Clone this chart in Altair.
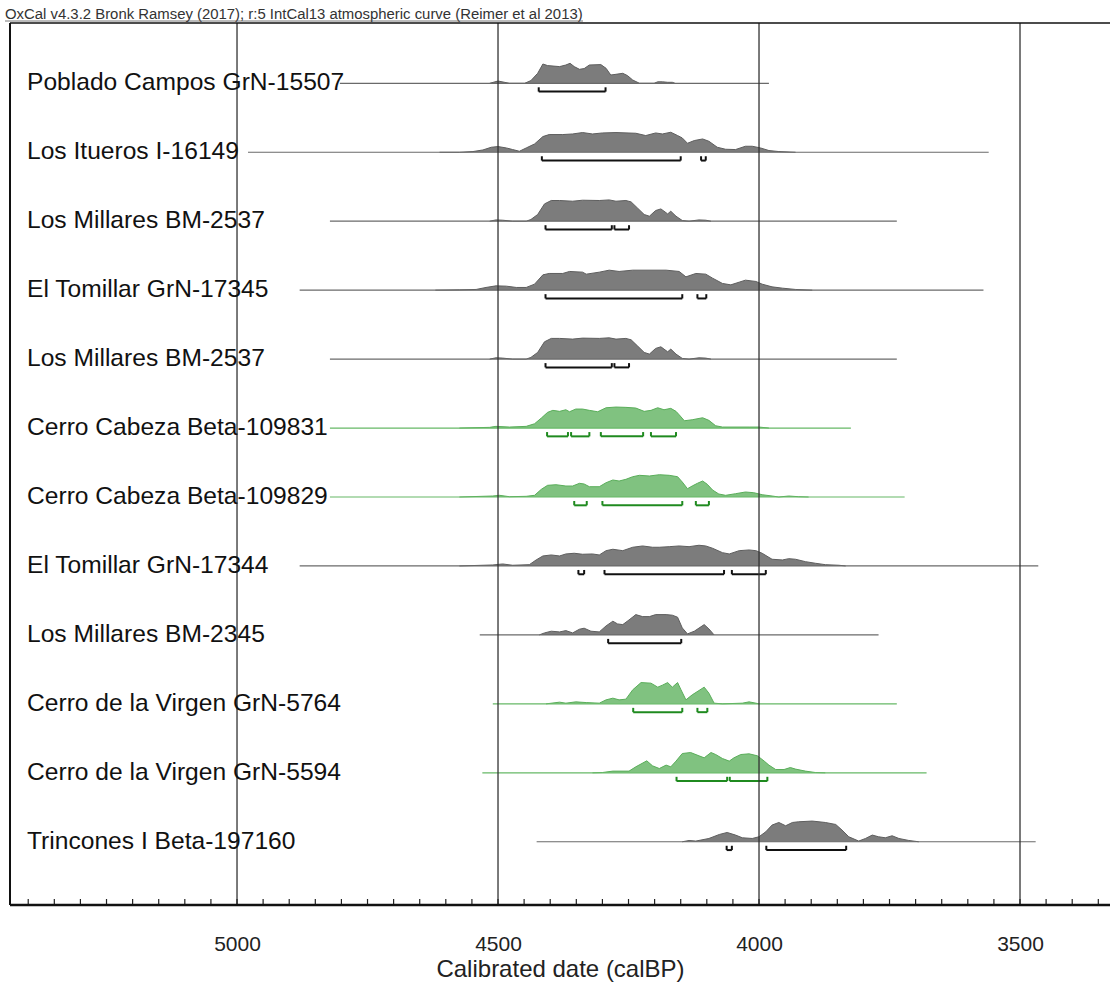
import altair as alt
import pandas as pd

FONT = "Liberation Sans"

labels = [
    "Poblado Campos GrN-15507",
    "Los Itueros I-16149",
    "Los Millares BM-2537",
    "El Tomillar GrN-17345",
    "Los Millares BM-2537",
    "Cerro Cabeza Beta-109831",
    "Cerro Cabeza Beta-109829",
    "El Tomillar GrN-17344",
    "Los Millares BM-2345",
    "Cerro de la Virgen GrN-5764",
    "Cerro de la Virgen GrN-5594",
    "Trincones I Beta-197160",
]
green_rows = [False, False, False, False, False, True, True, False, False, True, True, False]

# probability distributions (calBP year, relative density)
r1_year = [4516, 4500, 4478, 4449, 4437, 4424, 4414, 4405, 4382, 4370, 4362, 4354, 4344, 4335, 4325, 4303, 4293, 4284, 4274, 4261, 4252, 4242, 4229, 4201, 4194, 4185, 4175, 4166, 4161]
r1_dens = [0, 2.3, 0, 0, 2.7, 10, 19.3, 17.7, 16.7, 18.3, 20, 16.7, 14, 14.7, 18.3, 18.7, 15, 8.3, 9, 10, 7.7, 3.3, 0, 0, 1.5, 1.5, 1, 1, 0]

r2_year = [4612, 4574, 4548, 4529, 4513, 4500, 4484, 4472, 4459, 4446, 4430, 4414, 4402, 4376, 4357, 4338, 4319, 4300, 4274, 4236, 4217, 4198, 4185, 4169, 4156, 4147, 4137, 4124, 4108, 4096, 4080, 4064, 4045, 4026, 4013, 3997, 3981, 3962, 3930]
r2_dens = [0, 0, 0.7, 2.3, 5, 5.7, 4.3, 2.7, 1, 4.3, 8.3, 15.7, 17.7, 17.7, 18.3, 19.7, 18.3, 19.3, 19.7, 19, 16.7, 19.3, 18.3, 20, 16.7, 14.3, 9, 11.7, 13.3, 11, 5, 3, 2.7, 6, 6, 4.3, 1.7, 0.7, 0]

r3_year = [4516, 4504, 4491, 4472, 4446, 4437, 4424, 4411, 4398, 4382, 4357, 4338, 4306, 4287, 4274, 4255, 4245, 4233, 4220, 4210, 4198, 4188, 4182, 4175, 4169, 4159, 4147, 4134, 4115, 4102, 4092]
r3_dens = [0, 1.3, 1, 0, 0, 1.7, 6.7, 17.3, 20.7, 20.7, 20, 21, 20.7, 21.3, 20, 20.7, 19.3, 13.3, 6.7, 5, 10.7, 12.3, 10, 7.3, 10, 5, 0.7, 0, 1.3, 1, 0]

r4_year = [4620, 4574, 4542, 4523, 4504, 4484, 4465, 4446, 4430, 4414, 4402, 4376, 4363, 4338, 4331, 4306, 4287, 4268, 4242, 4178, 4153, 4140, 4121, 4102, 4089, 4070, 4054, 4038, 4026, 4006, 3994, 3975, 3955, 3930, 3898]
r4_dens = [0, 0.3, 0.7, 2.7, 4.3, 4, 2.7, 2.7, 6, 15.3, 16.7, 16.7, 18.7, 18, 16, 18, 20, 18.7, 20, 20, 18.7, 13.3, 16.7, 16, 12, 6.7, 5.3, 8, 10, 8.7, 6, 3.3, 2, 0.7, 0]

r5_year = r3_year
r5_dens = r3_dens

r6_year = [4574, 4516, 4504, 4478, 4446, 4430, 4417, 4405, 4395, 4382, 4370, 4363, 4351, 4338, 4325, 4309, 4293, 4274, 4255, 4236, 4220, 4207, 4194, 4182, 4169, 4159, 4153, 4143, 4128, 4108, 4096, 4083, 4070, 4019, 4000, 3981]
r6_dens = [0, 0.7, 1.7, 1, 1.7, 4.3, 10, 15.7, 17.7, 16.7, 18.3, 16.3, 19, 19, 17.7, 16.3, 20.3, 21, 20.7, 20, 16.7, 17.7, 20.3, 18.3, 19.7, 16.7, 13.3, 7.3, 8.3, 10.3, 7.7, 2.3, 1, 1, 1, 0]

r7_year = [4574, 4510, 4497, 4478, 4446, 4430, 4417, 4405, 4389, 4370, 4357, 4344, 4335, 4325, 4306, 4293, 4280, 4268, 4255, 4242, 4229, 4210, 4191, 4172, 4156, 4147, 4137, 4128, 4118, 4108, 4099, 4089, 4077, 4064, 4045, 4026, 4010, 3994, 3975, 3962, 3943, 3924, 3905]
r7_dens = [0, 1, 1.7, 0.3, 0.7, 1.7, 7.7, 11.7, 12.3, 11, 11, 13.7, 13, 10.3, 10.3, 14.3, 17, 16, 17.7, 20.3, 21.7, 21, 22.3, 21.7, 20.3, 15, 8.3, 11, 13.7, 16, 12.7, 7, 3, 1.7, 3.3, 5, 4.3, 2.3, 1, 0, 1, 0.3, 0]

r8_year = [4574, 4510, 4491, 4472, 4440, 4427, 4414, 4398, 4382, 4370, 4354, 4338, 4319, 4306, 4293, 4280, 4261, 4242, 4223, 4204, 4191, 4172, 4153, 4134, 4115, 4102, 4089, 4070, 4057, 4038, 4019, 4006, 3994, 3975, 3955, 3943, 3930, 3911, 3892, 3873, 3847, 3834]
r8_dens = [0, 1, 2, 0.7, 1.3, 6, 10, 11, 10, 12, 12.7, 11.7, 12, 11, 15.3, 16.7, 15.3, 18.7, 20, 18.7, 18.7, 19.3, 20, 19.3, 20.7, 20, 17.7, 13.3, 12, 15.3, 16, 15.3, 12.7, 6.7, 6, 7.3, 6.7, 4.3, 2.7, 1.3, 0.7, 0]

r9_year = [4421, 4411, 4398, 4382, 4370, 4357, 4344, 4335, 4322, 4306, 4293, 4280, 4271, 4261, 4249, 4236, 4223, 4210, 4198, 4178, 4166, 4156, 4147, 4137, 4124, 4105, 4096, 4086]
r9_dens = [0, 2, 3.7, 3, 4.3, 2, 5.7, 6.7, 3.7, 3, 9, 13.7, 11, 10.3, 15, 20.3, 18.3, 18.3, 20.3, 20.3, 19.7, 17.7, 7, 1, 3.7, 10.3, 6, 0]

r10_year = [4408, 4382, 4370, 4351, 4331, 4306, 4293, 4280, 4268, 4255, 4242, 4226, 4207, 4194, 4185, 4175, 4166, 4156, 4150, 4140, 4128, 4105, 4096, 4086, 4070, 4032, 4019, 4006, 4000]
r10_dens = [0, 1.7, 0.7, 2, 1.3, 0.7, 4, 5.7, 4, 4.7, 14, 21.3, 20.7, 16.7, 18.7, 21.3, 16.7, 21.3, 14.7, 4, 9, 16.7, 10.7, 0.7, 0, 0.7, 2, 0.7, 0]

r11_year = [4319, 4300, 4280, 4249, 4236, 4215, 4204, 4191, 4178, 4169, 4159, 4147, 4131, 4115, 4105, 4092, 4083, 4070, 4057, 4048, 4035, 4019, 4003, 3990, 3981, 3968, 3952, 3940, 3930, 3911, 3892, 3873]
r11_dens = [0, 0.3, 1.7, 1.7, 6, 12, 7, 4.3, 7.7, 6, 11.7, 19.3, 20.3, 17, 15, 20.3, 18.3, 14.3, 11.7, 15, 18.3, 19, 17, 11.7, 7.7, 3.3, 3.3, 5.3, 3.7, 1.7, 0.3, 0]

r12_year = [4147, 4134, 4121, 4096, 4076, 4061, 4045, 4032, 4013, 4000, 3987, 3975, 3962, 3949, 3936, 3924, 3898, 3873, 3853, 3841, 3828, 3809, 3796, 3783, 3771, 3758, 3745, 3732, 3713, 3694]
r12_dens = [0, 1.3, 0.7, 3.3, 7.3, 9.3, 6.7, 4, 3.3, 5, 10, 16.7, 19.3, 16, 19.3, 20, 20.7, 19.3, 17.3, 11.7, 5, 0.7, 3.3, 6.7, 5, 4, 6, 3.3, 1.3, 0]

dist_years = [r1_year, r2_year, r3_year, r4_year, r5_year, r6_year, r7_year, r8_year, r9_year, r10_year, r11_year, r12_year]
dist_dens = [r1_dens, r2_dens, r3_dens, r4_dens, r5_dens, r6_dens, r7_dens, r8_dens, r9_dens, r10_dens, r11_dens, r12_dens]

# extent of each row's baseline (calBP)
line_start = [4803, 4979, 4822, 4880, 4822, 4822, 4822, 4880, 4535, 4510, 4530, 4426]
line_end = [3981, 3560, 3736, 3570, 3736, 3824, 3721, 3465, 3771, 3736, 3679, 3470]

# 95.4% ranges (from, to) per row
ranges = [
    [(4422, 4294)],
    [(4416, 4150), (4111, 4102)],
    [(4409, 4282), (4277, 4249)],
    [(4409, 4147), (4118, 4101)],
    [(4409, 4282), (4277, 4249)],
    [(4406, 4366), (4360, 4325), (4303, 4222), (4207, 4159)],
    [(4354, 4330), (4300, 4147), (4121, 4096)],
    [(4346, 4335), (4296, 4067), (4052, 3987)],
    [(4289, 4149)],
    [(4241, 4147), (4118, 4099)],
    [(4158, 4061), (4056, 3984)],
    [(4062, 4052), (3986, 3833)],
]

axis_labels = [5000, 4500, 4000, 3500]
minor_ticks = list(range(3350, 5450, 50))

# ---- styling constants ----
W, H = 1100, 882
ROW_PX = 68.95
DENS_SCALE = 1.0 / ROW_PX        # density units are roughly pixels
BR_OFF = 8.3 / ROW_PX
BR_TICK = 4.3 / ROW_PX

GRAY_FILL, GRAY_EDGE, GRAY_BASE, GRAY_BR = "#7c7c7c", "#5e5e5e", "#6a6a6a", "#111111"
GREEN_FILL, GREEN_EDGE, GREEN_BASE, GREEN_BR = "#80c280", "#5aae5a", "#66b866", "#1f8a1f"

xscale = alt.Scale(domain=[3327.6, 5434.9], reverse=True, nice=False, zero=False)
yscale = alt.Scale(domain=[-0.8746, 11.917], reverse=True, nice=False, zero=False)

# ---- build tables ----
dist_rows, base_rows, br_rows, brt_rows, lab_rows = [], [], [], [], []
for i, lab in enumerate(labels):
    grp = "green" if green_rows[i] else "gray"
    for yr, d in zip(dist_years[i], dist_dens[i]):
        dist_rows.append({"row": i, "grp": grp, "year": yr, "top": i - d * DENS_SCALE, "base": i})
    base_rows.append({"row": i, "grp": grp, "start": line_start[i], "end": line_end[i], "y": i})
    for a, b in ranges[i]:
        br_rows.append({"row": i, "grp": grp, "start": a, "end": b, "y": i + BR_OFF})
        for e in (a, b):
            brt_rows.append({"row": i, "grp": grp, "year": e, "y1": i + BR_OFF, "y2": i + BR_OFF - BR_TICK})
    lab_rows.append({"row": i, "label": lab})

dist = pd.DataFrame(dist_rows)
base = pd.DataFrame(base_rows)
br = pd.DataFrame(br_rows)
brt = pd.DataFrame(brt_rows)
labs = pd.DataFrame(lab_rows)
one = pd.DataFrame({"k": [0]})

xaxis = alt.Axis(values=axis_labels, grid=False, ticks=False, domain=False, format="d",
                 labelFont=FONT, labelFontSize=21, labelColor="#222", labelPadding=28,
                 title="Calibrated date (calBP)", titleFont=FONT, titleFontSize=24,
                 titleFontWeight="normal", titleColor="#222", titlePadding=3)


def X(field):
    return alt.X(field, scale=xscale, axis=xaxis)


def Y(field):
    return alt.Y(field, scale=yscale, axis=None)


layers = []
for grp, fill, edge, basec, brc in [("gray", GRAY_FILL, GRAY_EDGE, GRAY_BASE, GRAY_BR),
                                    ("green", GREEN_FILL, GREEN_EDGE, GREEN_BASE, GREEN_BR)]:
    d = dist[dist.grp == grp]
    layers.append(alt.Chart(d).mark_area(color=fill, opacity=1).encode(
        x=X("year:Q"), y=Y("top:Q"), y2="base:Q", detail="row:N"))
    layers.append(alt.Chart(d).mark_line(color=edge, strokeWidth=1).encode(
        x=X("year:Q"), y=Y("top:Q"), detail="row:N"))
    layers.append(alt.Chart(base[base.grp == grp]).mark_rule(color=basec, strokeWidth=1.2).encode(
        x=X("start:Q"), x2="end:Q", y=Y("y:Q")))
    layers.append(alt.Chart(br[br.grp == grp]).mark_rule(color=brc, strokeWidth=2).encode(
        x=X("start:Q"), x2="end:Q", y=Y("y:Q")))
    layers.append(alt.Chart(brt[brt.grp == grp]).mark_rule(color=brc, strokeWidth=2).encode(
        x=X("year:Q"), y=Y("y1:Q"), y2="y2:Q"))

grid = alt.Chart(pd.DataFrame({"year": axis_labels})).mark_rule(color="#333", strokeWidth=1.3).encode(
    x=X("year:Q"), y=alt.value(0), y2=alt.value(H))

ticks = alt.Chart(pd.DataFrame({"year": minor_ticks})).mark_rule(color="#222", strokeWidth=1.2).encode(
    x=X("year:Q"), y=alt.value(H), y2=alt.value(H - 6))

texts = alt.Chart(labs).mark_text(align="left", baseline="middle", font=FONT, fontSize=24.6, color="#111").encode(
    x=alt.value(17), y=Y("row:Q"), text="label:N")

frame_left = alt.Chart(one).mark_rule(color="#111", strokeWidth=2).encode(
    x=alt.value(0), y=alt.value(0), y2=alt.value(H))
frame_top = alt.Chart(one).mark_rule(color="#111", strokeWidth=1.5).encode(
    x=alt.value(0), x2=alt.value(W), y=alt.value(0))
frame_bottom = alt.Chart(one).mark_rule(color="#111", strokeWidth=2.5).encode(
    x=alt.value(0), x2=alt.value(W), y=alt.value(H))

top_text = alt.Chart(one).mark_text(align="left", baseline="alphabetic", font=FONT, fontSize=14.9, color="#333").encode(
    x=alt.value(-5), y=alt.value(-4),
    text=alt.value("OxCal v4.3.2 Bronk Ramsey (2017); r:5 IntCal13 atmospheric curve (Reimer et al 2013)"))
top_line = alt.Chart(one).mark_rule(color="#555", strokeWidth=0.8).encode(
    x=alt.value(-5), x2=alt.value(573), y=alt.value(-2))

chart = alt.layer(*layers, grid, ticks, texts, frame_left, frame_top, frame_bottom, top_text, top_line).properties(
    width=W, height=H,
    autosize=alt.AutoSizeParams(type="none"),
    padding={"left": 10, "top": 23, "right": 0, "bottom": 80},
    background="white",
).configure_view(stroke=None)

chart.save("out.html", embed_options={"renderer": "svg", "actions": False})
